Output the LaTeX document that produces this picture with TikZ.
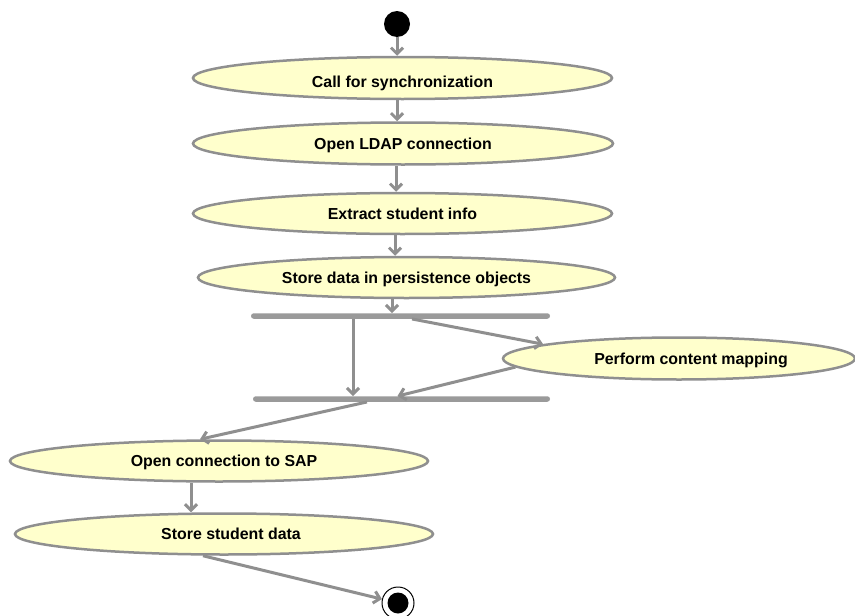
\documentclass[tikz,border=0pt]{standalone}
\usepackage{fontspec}
\setmainfont{Liberation Sans}
\usetikzlibrary{shapes.geometric,arrows.meta}
\definecolor{lgray}{HTML}{8F8F8F}
\definecolor{lyel}{HTML}{FFFFCC}
\begin{document}
\begin{tikzpicture}[x=1pt,y=-1pt,
  act/.style={ellipse,draw=lgray,line width=2.5pt,fill=lyel,inner sep=0pt,
    minimum width=418pt,minimum height=41pt,text height=11pt,text depth=0pt,
    font=\fontsize{15.9}{18}\selectfont\bfseries},
  barnode/.style={rectangle,fill=lgray!90,inner sep=0pt,minimum height=5.5pt,rounded corners=2.7pt},
  conn/.style={draw=lgray,line width=3pt,-{Straight Barb[length=6pt,width=12pt]}}]
\useasboundingbox (0,0) rectangle (855,616);
\clip (0,0) rectangle (855,616);
\node[circle,fill=black,inner sep=0pt,minimum size=26pt] (start) at (397,24) {};
\node[act,minimum width=419pt,minimum height=42pt,text height=19pt] (a1) at (402.5,78) {Call for synchronization};
\node[act,minimum width=420pt,minimum height=42pt] (a2) at (403,143.5) {Open LDAP connection};
\node[act,minimum width=419pt] (a3) at (402.5,213.5) {Extract student info};
\node[act,minimum width=417pt] (a4) at (406.5,277.5) {Store data in persistence objects};
\node[barnode,minimum width=299pt] (b1) at (400.5,316) {};
\node[act,minimum width=352pt,minimum height=42pt] (pcm) at (679,358.5) {\hspace*{24pt}Perform content mapping};
\node[barnode,minimum width=297pt] (b2) at (401.5,399) {};
\node[act] (sap) at (219,461) {\hspace*{10pt}Open connection to SAP};
\node[act] (ssd) at (224,534) {\hspace*{14pt}Store student data};
\node[circle,draw=black,line width=1pt,fill=white,inner sep=0pt,minimum size=32pt] (end) at (398,603) {};
\node[circle,fill=black,inner sep=0pt,minimum size=21pt] (endin) at (end) {};

\draw[conn] (start.south) -- (start.south |- a1.north);
\draw[conn] ([xshift=-5.5pt]a1.south) -- ([xshift=-5.5pt]a1.south |- a2.north);
\draw[conn] ([xshift=-7pt]a2.south) -- ([xshift=-7pt]a2.south |- a3.north);
\draw[conn] ([xshift=-7.5pt]a3.south) -- ([xshift=-7.5pt]a3.south |- a4.north);
\draw[conn] ([xshift=-14.5pt]a4.south) -- ([xshift=-14.5pt]a4.south |- b1.north);
\draw[conn] ([xshift=-47.5pt]b1.south) -- ([xshift=-47.5pt]b1.south |- b2.north);
\draw[conn] ([xshift=11.5pt]b1.south) -- (pcm.174.5);
\draw[conn] (pcm.183) -- ([xshift=-4pt]b2.north);
\draw[conn] ([xshift=-34.5pt]b2.south) -- ([xshift=-19pt]sap.north);
\draw[conn] ([xshift=-28pt]sap.south) -- ([xshift=-28pt]sap.south |- ssd.north);
\draw[conn] ([xshift=-21pt]ssd.south) -- (end);
\end{tikzpicture}
\end{document}
